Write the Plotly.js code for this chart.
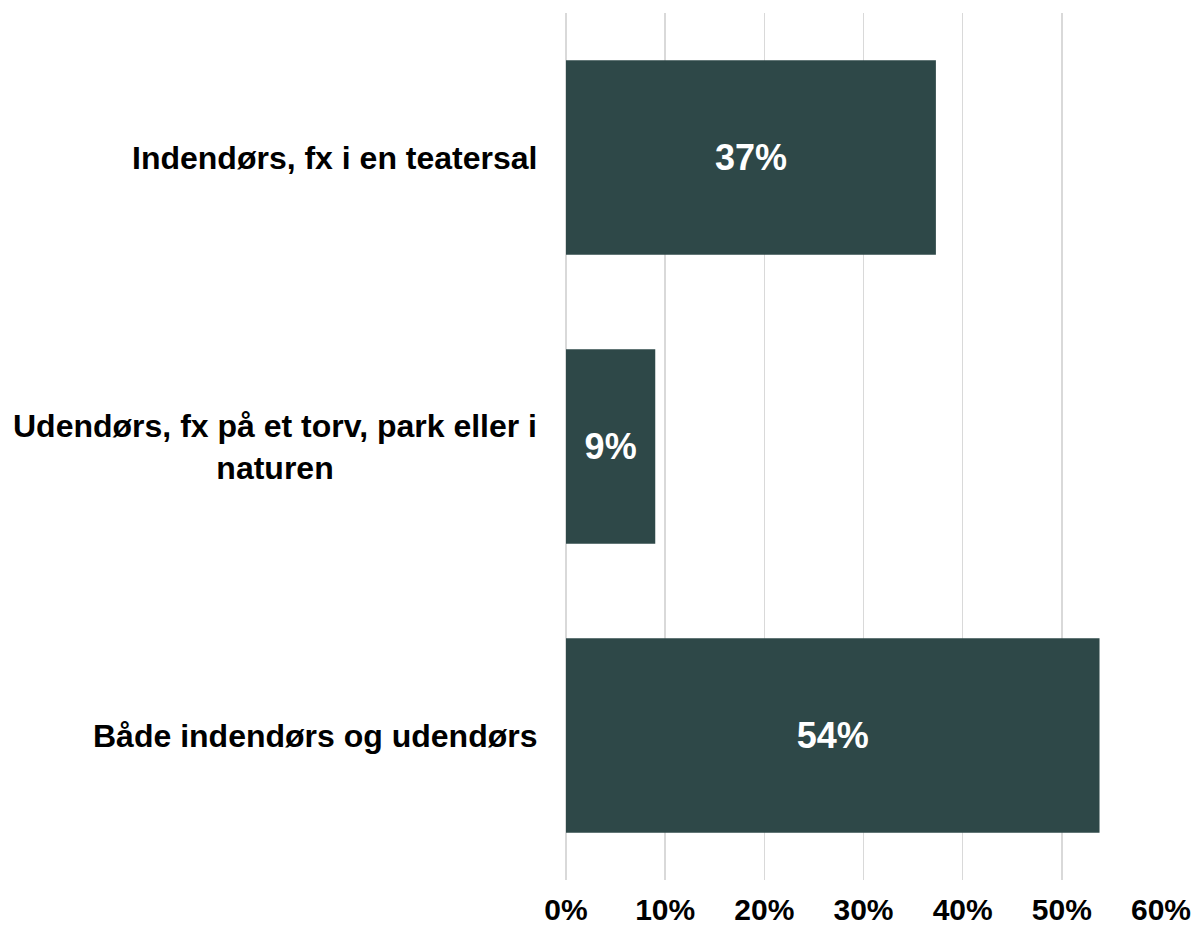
<!DOCTYPE html>
<html>
<head>
<meta charset="utf-8">
<script src="https://cdn.plot.ly/plotly-3.0.1.min.js"></script>
<style>html,body{margin:0;padding:0;background:#fff;}#chart{width:1196px;height:930px;}</style>
</head>
<body>
<div id="chart"></div>
<script>
const categories = ["Indendørs, fx i en teatersal", "Udendørs, fx på et torv, park eller i<br>naturen", "Både indendørs og udendørs"];
const shares = [0.373, 0.090, 0.538];
const tickValues = [0, 0.1, 0.2, 0.3, 0.4, 0.5, 0.6];
const tickLabels = ["0%", "10%", "20%", "30%", "40%", "50%", "60%"];

const FONT = "Liberation Sans, Arial, sans-serif";

const trace = {
  type: "bar",
  orientation: "h",
  x: shares,
  y: categories,
  width: 0.673,
  marker: {color: "#2E4848", line: {width: 0}},
  texttemplate: "%{x:.0%}",
  textposition: "inside",
  insidetextanchor: "middle",
  textangle: 0,
  textfont: {family: FONT, size: 36, color: "#ffffff", weight: "bold"},
  hoverinfo: "skip"
};

const annotations = categories.map(c => ({
  xref: "paper", yref: "y",
  x: -27/595, y: c,
  xanchor: "right", yanchor: "middle",
  text: c, showarrow: false, align: "center",
  font: {family: FONT, size: 32, color: "#000000", weight: "bold"}
}));

const layout = {
  width: 1196, height: 930,
  margin: {l: 566, r: 35, t: 13, b: 50},
  paper_bgcolor: "#ffffff", plot_bgcolor: "#ffffff",
  showlegend: false,
  bargap: 0.327,
  xaxis: {
    range: [0, 0.6],
    tickvals: tickValues,
    ticktext: tickLabels,
    showgrid: true, gridcolor: "#d9d9d9", gridwidth: 1.5,
    zeroline: true, zerolinecolor: "#d9d9d9", zerolinewidth: 1.5,
    showline: false, ticks: "",
    ticklabelstandoff: 9,
    tickfont: {family: FONT, size: 30, color: "#000000", weight: "bold"},
    fixedrange: true
  },
  yaxis: {
    autorange: "reversed",
    showticklabels: false, ticks: "", showgrid: false, zeroline: false, showline: false,
    fixedrange: true
  },
  annotations: annotations
};

Plotly.newPlot("chart", [trace], layout, {displayModeBar: false, staticPlot: true});
</script>
</body>
</html>
